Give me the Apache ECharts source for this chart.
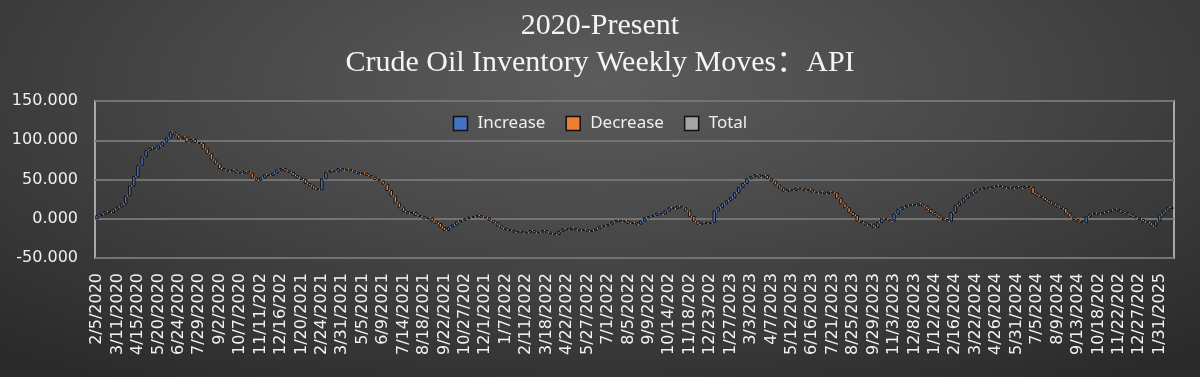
<!DOCTYPE html>
<html>
<head>
<meta charset="utf-8">
<script src="https://cdn.jsdelivr.net/npm/echarts@6/dist/echarts.min.js"></script>
<style>
  html, body { margin: 0; padding: 0; }
  body {
    width: 1200px; height: 377px;
    background: radial-gradient(ellipse 75% 95% at 50% 22%, #5c5c5c 0%, #474747 45%, #2a2a2a 100%);
  }
  #chart { width: 1200px; height: 377px; }
</style>
</head>
<body>
<div id="chart"></div>
<script>
// x 轴标签：每 5 周一个（Excel 截断到 9 个字符）
const tickLabels = [
  '2/5/2020', '3/11/2020', '4/15/2020', '5/20/2020', '6/24/2020', '7/29/2020', '9/2/2020', '10/7/2020',
  '11/11/2020', '12/16/2020', '1/20/2021', '2/24/2021', '3/31/2021', '5/5/2021', '6/9/2021', '7/14/2021',
  '8/18/2021', '9/22/2021', '10/27/2021', '12/1/2021', '1/7/2022', '2/11/2022', '3/18/2022', '4/22/2022',
  '5/27/2022', '7/1/2022', '8/5/2022', '9/9/2022', '10/14/2022', '11/18/2022', '12/23/2022', '1/27/2023',
  '3/3/2023', '4/7/2023', '5/12/2023', '6/16/2023', '7/21/2023', '8/25/2023', '9/29/2023', '11/3/2023',
  '12/8/2023', '1/12/2024', '2/16/2024', '3/22/2024', '4/26/2024', '5/31/2024', '7/5/2024', '8/9/2024',
  '9/13/2024', '10/18/2024', '11/22/2024', '12/27/2024', '1/31/2025'
];

// 每周库存变化（百万桶，从图上估读）
const weeklyMoves = [
  4, 2, 3, -1, 4, 3, 4,
  10, 13, 12, 14, 11, 8,
  3, -1, 4, 5,
  5, 7,
  -3, -5, 2, -6, 3, -4, -1,
  -7, -6, -8, -5, -6,
  -2, -1, 1, -3, -1, 2, -2,
  -6, -3,
  3, 4, -1, 3, 4, 2,
  -3, -2, -4, -3, -2, -5, -3, -4,
  -1, 14, 8,
  2, -1, 4,
  -2, 1, -2, -2,
  -2, 1, -3, -2,
  -3, -2, -4,
  -8, -7, -9, -6,
  -5, -2, 1, -4,
  -1, -3, 1, -4, -3,
  -5, -4,
  4, 3, 4, 2, 2,
  2, 1, 1,
  -2, -1, -3, -3,
  -4, -3, -2,
  -1, -2, 1, -2, 1,
  2, -3, 1, 2, -2,
  -2, -1,
  4, 3,
  -1, 2, -2, -1, 1, -2, 1,
  2, 3, 1, 2, 3, 2,
  -2, 1, -3, 1, -2,
  4, 4,
  2, 1, 3, -1,
  4, 4,
  -1, 3, -2,
  -4, -7, -6, -4,
  2, -1, 1,
  15, 4, 5, 4, 4,
  6, 7, 5,
  6, 3, 2,
  -3, 2,
  -4, -3, -5, -4, -4,
  2, -1, 3, -1,
  -2, 1, -3, -1,
  1, -2, 2, -1,
  -7, -7,
  -5, -6, -4, -7,
  -2, -3, 1, -4,
  6, 5,
  -1, -2,
  9, 6, 3,
  2, 1, -1, 2,
  -3, -4, -4,
  -3, -4, -2, -2,
  11, 9, 4,
  5, 4, 3, 4,
  1, 2, -1, 2, 1, -1,
  -2, 1, -1, 2, -2, 2, -1,
  -8,
  -3, -2, -4, -3, -2, -3, -2,
  -6, -5,
  -3, -2, -2,
  8, 3,
  1, -1, 2, 1, 2, 1,
  -2, -2, -2,
  -3, -2, -2, -3, -1, -4,
  6, 8, 5,
  4, -1
];

const categories = weeklyMoves.map((v, i) => (i % 5 === 0 ? tickLabels[i / 5] : ''));

// 瀑布图：每根柱子 [index, 起点, 终点]
const upData = [];
const downData = [];
const connData = [];
let level = 0;
weeklyMoves.forEach((v, i) => {
  const next = level + v;
  if (v >= 0) upData.push([i, level, next]);
  else downData.push([i, level, next]);
  if (i < weeklyMoves.length - 1) connData.push([i, next]);
  level = next;
});

const BarRatio = 0.6;
const barRender = (color) => (params, api) => {
  const i = api.value(0);
  const a = api.coord([i, api.value(1)]);
  const b = api.coord([i, api.value(2)]);
  const w = api.size([1, 0])[0] * BarRatio;
  const top = Math.min(a[1], b[1]);
  const h = Math.max(Math.abs(a[1] - b[1]), 0.6);
  return {
    type: 'rect',
    shape: { x: a[0] - w / 2, y: top, width: w, height: h },
    style: { fill: color, stroke: '#121212', lineWidth: 1 },
  };
};

const connRender = (params, api) => {
  const i = api.value(0);
  const p = api.coord([i, api.value(1)]);
  const q = api.coord([i + 1, api.value(1)]);
  const w = api.size([1, 0])[0] * BarRatio;
  return {
    type: 'line',
    shape: { x1: p[0] + w / 2, y1: p[1], x2: q[0] - w / 2, y2: q[1] },
    style: { stroke: '#dcdcdc', lineWidth: 1 },
  };
};

const myChart = echarts.init(document.getElementById('chart'), null, { renderer: 'canvas' });
myChart.setOption({
  backgroundColor: 'transparent',
  animation: false,
  title: {
    text: '2020-Present\nCrude Oil Inventory Weekly Moves：API',
    left: 'center',
    top: 3,
    textStyle: {
      color: '#f4f4f4',
      fontFamily: "'Liberation Serif', 'Noto Sans CJK SC', serif",
      fontWeight: 'normal',
      fontSize: 30,
      lineHeight: 37,
    },
  },
  legend: {
    data: ['Increase', 'Decrease', 'Total'],
    left: 'center',
    top: 110,
    icon: 'rect',
    itemWidth: 14,
    itemHeight: 14,
    itemGap: 20,
    textStyle: {
      color: '#eeeeee',
      fontSize: 17,
      fontFamily: "'Noto Sans', sans-serif",
      padding: [0, 0, 0, 5],
    },
    itemStyle: { borderColor: '#111', borderWidth: 1.5 },
  },
  grid: {
    left: 95,
    right: 26,
    top: 101,
    bottom: 119,
    show: true,
    borderColor: '#a8a8a8',
    borderWidth: 2,
    backgroundColor: 'rgba(0,0,0,0)',
  },
  xAxis: {
    type: 'category',
    data: categories,
    boundaryGap: true,
    axisLine: { show: false },
    axisTick: { show: false },
    splitLine: { show: false },
    axisLabel: {
      interval: 4,
      rotate: 90,
      margin: 15,
      color: '#f2f2f2',
      fontSize: 16,
      fontFamily: "'DejaVu Sans', sans-serif",
      formatter: (v) => v.slice(0, 9),
    },
  },
  yAxis: {
    type: 'value',
    min: -50,
    max: 150,
    interval: 50,
    axisLine: { show: false },
    axisTick: { show: false },
    splitLine: { lineStyle: { color: '#737373', width: 2 } },
    axisLabel: {
      margin: 17,
      color: '#f0f0f0',
      fontSize: 16,
      fontFamily: "'DejaVu Sans', sans-serif",
      formatter: (v) => v.toFixed(3),
    },
  },
  series: [
    {
      name: 'Connector',
      type: 'custom',
      renderItem: connRender,
      data: connData,
      z: 1,
    },
    {
      name: 'Increase',
      type: 'custom',
      renderItem: barRender('#4472c4'),
      itemStyle: { color: '#4472c4' },
      data: upData,
      z: 2,
    },
    {
      name: 'Decrease',
      type: 'custom',
      renderItem: barRender('#ed7d31'),
      itemStyle: { color: '#ed7d31' },
      data: downData,
      z: 2,
    },
    {
      name: 'Total',
      type: 'bar',
      itemStyle: { color: '#a5a5a5' },
      data: [],
    },
  ],
});
</script>
</body>
</html>
